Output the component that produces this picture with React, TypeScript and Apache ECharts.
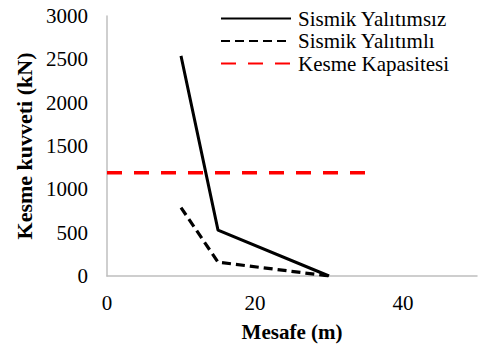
import React, { useEffect, useRef } from "react";
import * as echarts from "echarts";

// Distance along the structure (m)
const distances = [10, 15, 30];
// Shear force, non-isolated building (kN)
const nonIsolated = [2540, 530, 0];
// Shear force, seismically isolated building (kN)
const isolated = [790, 160, 0];
// Shear capacity line (kN) over its distance span
const capacityX = [0, 35];
const capacityY = [1190, 1190];

const seriesNames = ["Sismik Yalıtımsız", "Sismik Yalıtımlı", "Kesme Kapasitesi"];

const serif = "Liberation Serif, Times New Roman, serif";

export default function App() {
  const ref = useRef<HTMLDivElement>(null);

  useEffect(() => {
    if (!ref.current) return;
    const chart = echarts.init(ref.current, undefined, { renderer: "svg" });
    const pairs = (xs: number[], ys: number[]) => xs.map((x, i) => [x, ys[i]]);
    chart.setOption({
      animation: false,
      backgroundColor: "#ffffff",
      textStyle: { fontFamily: serif },
      grid: { left: 107, right: 1, top: 16, bottom: 71, containLabel: false },
      legend: {
        orient: "vertical",
        left: 220,
        top: 8,
        padding: 0,
        itemWidth: 70,
        itemHeight: 14,
        itemGap: 1.5,
        itemStyle: { opacity: 0 },
        textStyle: {
          fontFamily: serif,
          fontSize: 21,
          lineHeight: 21,
          color: "#000",
          padding: [0, 0, 0, 2],
        },
        data: seriesNames,
      },
      xAxis: {
        type: "value",
        min: 0,
        max: 50,
        interval: 20,
        name: "Mesafe (m)",
        nameLocation: "middle",
        nameGap: 45,
        nameTextStyle: { fontFamily: serif, fontSize: 21, fontWeight: "bold", color: "#000" },
        axisLine: { show: true, lineStyle: { color: "#bfbfbf", width: 1.5 } },
        axisTick: { show: false },
        splitLine: { show: false },
        axisLabel: {
          fontFamily: serif,
          fontSize: 21,
          color: "#000",
          margin: 16,
          showMaxLabel: false,
          formatter: (v: number) => String(v),
        },
      },
      yAxis: {
        type: "value",
        min: 0,
        max: 3000,
        interval: 500,
        name: "Kesme kuvveti (kN)",
        nameLocation: "middle",
        nameGap: 71,
        nameTextStyle: { fontFamily: serif, fontSize: 22, fontWeight: "bold", color: "#000" },
        axisLine: { show: true, lineStyle: { color: "#bfbfbf", width: 1.5 } },
        axisTick: { show: false },
        splitLine: { show: false },
        axisLabel: {
          fontFamily: serif,
          fontSize: 21,
          color: "#000",
          margin: 19,
          formatter: (v: number) => String(v),
        },
      },
      series: [
        {
          name: seriesNames[0],
          type: "line",
          symbol: "none",
          data: pairs(distances, nonIsolated),
          lineStyle: { color: "#000", width: 3 },
          itemStyle: { color: "#000" },
        },
        {
          name: seriesNames[1],
          type: "line",
          symbol: "none",
          data: pairs(distances, isolated),
          lineStyle: { color: "#000", width: 3.2, type: [9, 5] },
          itemStyle: { color: "#000" },
        },
        {
          name: seriesNames[2],
          type: "line",
          symbol: "none",
          data: pairs(capacityX, capacityY),
          lineStyle: { color: "#ff0000", width: 3.5, type: [15, 12] },
          itemStyle: { color: "#ff0000" },
        },
      ],
    });
    return () => chart.dispose();
  }, []);

  return <div ref={ref} style={{ width: 478, height: 347, position: "absolute", left: 0, top: 0 }} />;
}
